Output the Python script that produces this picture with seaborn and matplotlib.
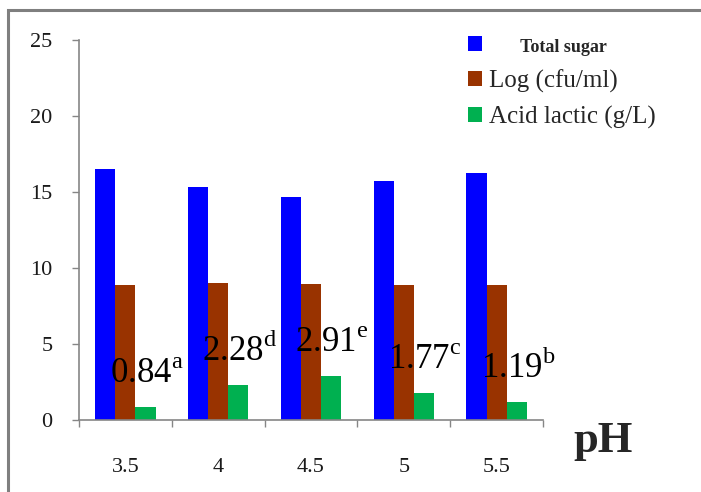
import matplotlib
matplotlib.use("Agg")
import matplotlib.pyplot as plt
from matplotlib.patches import Patch, Rectangle
import numpy as np
import pandas as pd
import seaborn as sns

# data
ph_levels = ["3.5", "4", "4.5", "5", "5.5"]
total_sugar = [16.5, 15.3, 14.7, 15.7, 16.25]
log_cfu = [8.85, 9.0, 8.95, 8.85, 8.85]
lactic_acid = [0.84, 2.28, 2.91, 1.77, 1.19]
lactic_letters = ["a", "d", "e", "c", "b"]

series_names = ["Total sugar", "Log (cfu/ml)", "Acid lactic (g/L)"]
series_colors = ["#0000FF", "#993300", "#00B050"]


def main():
    sns.set_style("white")
    plt.rcParams["font.family"] = ["Liberation Serif", "DejaVu Serif"]
    plt.rcParams["mathtext.fontset"] = "custom"
    plt.rcParams["mathtext.rm"] = "Liberation Serif"

    df = pd.DataFrame({
        "pH": ph_levels * 3,
        "value": total_sugar + log_cfu + lactic_acid,
        "series": [s for s in series_names for _ in ph_levels],
    })

    fig = plt.figure(figsize=(7.01, 4.92), dpi=100)
    ax = fig.add_axes([79 / 701, 72 / 492, 464 / 701, 380 / 492])

    sns.barplot(data=df, x="pH", y="value", hue="series", order=ph_levels,
                hue_order=series_names, palette=series_colors, saturation=1,
                width=0.65, errorbar=None, linewidth=0, ax=ax)

    ax.set_xlim(-0.5, len(ph_levels) - 0.5)
    ax.set_ylim(0, 25)
    ax.set_yticks(range(0, 26, 5))
    ax.set_xlabel("")
    ax.set_ylabel("")

    grey = "#868686"
    for side in ["top", "right"]:
        ax.spines[side].set_visible(False)
    for side in ["left", "bottom"]:
        ax.spines[side].set_color(grey)
        ax.spines[side].set_linewidth(1.2)

    ax.set_xticks(np.arange(-0.5, len(ph_levels), 1), minor=True)
    ax.tick_params(axis="y", length=5, width=1, color=grey, direction="out",
                   pad=14, labelsize=16, labelcolor="#1a1a1a", left=True)
    ax.tick_params(axis="x", which="major", length=0, pad=27, labelsize=16,
                   labelcolor="#1a1a1a")
    ax.tick_params(axis="x", which="minor", length=5, width=1, color=grey,
                   direction="out", bottom=True)

    # significance labels over lactic acid bars
    for i, (v, letter) in enumerate(zip(lactic_acid, lactic_letters)):
        ax.text(i - 0.17, v + 1.57, f"{v:.2f}$^{{\\rm {letter}}}$",
                fontsize=25, ha="left", va="baseline", color="black")

    handles = [Patch(facecolor=c, edgecolor="none") for c in series_colors]
    labels = ["       " + series_names[0]] + series_names[1:]
    ax.legend(handles, labels, loc="upper left",
              bbox_to_anchor=(468 / 701, 1 - 36 / 492),
              bbox_transform=fig.transFigure, frameon=False, fontsize=18,
              handlelength=0.55, handleheight=0.55, handletextpad=0.3,
              labelspacing=0.52, borderpad=0, borderaxespad=0)
    leg_texts = ax.get_legend().get_texts()
    leg_texts[0].set_fontweight("bold")
    leg_texts[0].set_fontsize(13)

    fig.text(573 / 701, 1 - 452 / 492, "pH", fontsize=32, fontweight="bold",
             ha="left", va="baseline")

    # outer frame of the original figure
    fig.add_artist(Rectangle((8 / 701, -0.2), 1.5, 1.2 - 10 / 492,
                             transform=fig.transFigure, fill=False,
                             edgecolor="#7f7f7f", linewidth=2.2))

    fig.savefig("out.png", dpi=100)
    plt.close(fig)


if __name__ == "__main__":
    main()
